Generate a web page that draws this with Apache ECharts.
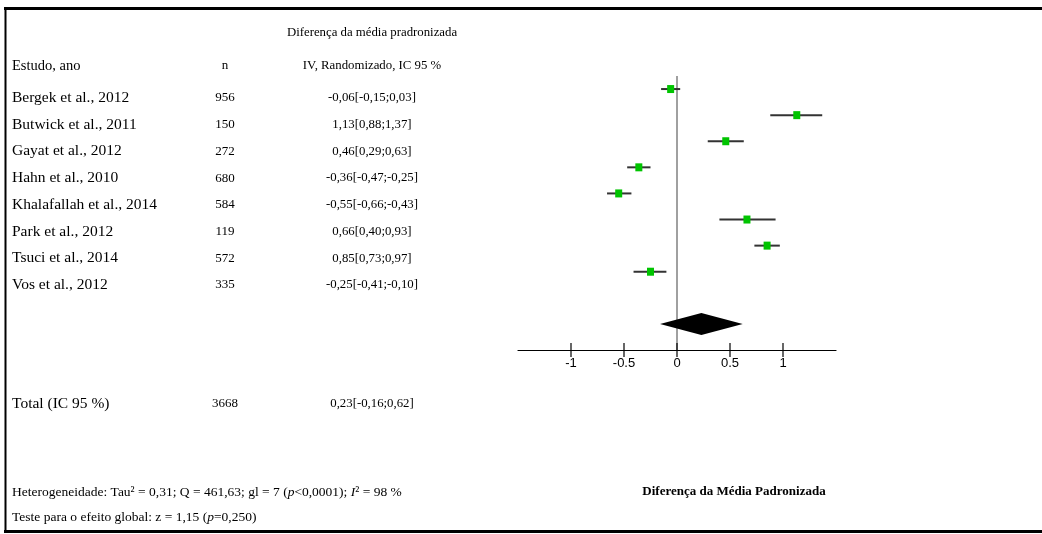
<!DOCTYPE html>
<html>
<head>
<meta charset="utf-8">
<script src="https://cdn.jsdelivr.net/npm/echarts@6/dist/echarts.min.js"></script>
<style>
  html, body { margin: 0; padding: 0; background: #fff; }
  #chart { width: 1042px; height: 534px; }
</style>
</head>
<body>
<div id="chart"></div>
<script>
// Forest plot: standardized mean difference per study (IV, random effects, 95% CI)
const studies = [
  'Bergek et al., 2012', 'Butwick et al., 2011', 'Gayat et al., 2012', 'Hahn et al., 2010',
  'Khalafallah et al., 2014', 'Park et al., 2012', 'Tsuci et al., 2014', 'Vos et al., 2012'
];
const sampleSizes = [956, 150, 272, 680, 584, 119, 572, 335];
const smd   = [-0.06, 1.13, 0.46, -0.36, -0.55, 0.66, 0.85, -0.25];
const ciLow = [-0.15, 0.88, 0.29, -0.47, -0.66, 0.40, 0.73, -0.41];
const ciHigh= [ 0.03, 1.37, 0.63, -0.25, -0.43, 0.93, 0.97, -0.10];

const totalN = 3668;
const pooled = [0.23, -0.16, 0.62]; // estimate, lower, upper

const xTicks = [-1, -0.5, 0, 0.5, 1];
const xMin = -1.5, xMax = 1.5;

const fmt = v => v.toFixed(2).replace('.', ',');
const ciText = (e, l, h) => fmt(e) + '[' + fmt(l) + ';' + fmt(h) + ']';

const SERIF = '"Liberation Serif", "Times New Roman", serif';
const F_NAME = 15.5, F_NUM = 13, F_CI = 12.8, F_FOOT = 13.5;

// plot rows: study i sits at row i+1, pooled diamond at row 10, axis at row 11
const ciData = smd.map((e, i) => [i + 1, e, ciLow[i], ciHigh[i]]);
const diamondData = [[10, pooled[0], pooled[1], pooled[2]]];

// table text
const colStudy = 12, colN = 225, colCI = 372;
const rowY0 = 98, rowStep = 26.7;
const graphic = [];
function txt(x, y, text, align, size, extra) {
  graphic.push({
    type: 'text', x: x, y: y, silent: true,
    style: Object.assign({
      text: text, fill: '#000', font: size + 'px ' + SERIF,
      textAlign: align || 'left', textVerticalAlign: 'middle'
    }, extra || {})
  });
}
txt(colCI, 33, 'Diferença da média pradronizada', 'center', F_CI);
txt(colStudy, 66, 'Estudo, ano', 'left', 14.5);
txt(colN, 66, 'n', 'center', F_NUM);
txt(colCI, 66, 'IV, Randomizado, IC 95 %', 'center', F_CI);
studies.forEach((s, i) => {
  const y = rowY0 + i * rowStep;
  txt(colStudy, y, s, 'left', F_NAME);
  txt(colN, y, String(sampleSizes[i]), 'center', F_NUM);
  txt(colCI, y, ciText(smd[i], ciLow[i], ciHigh[i]), 'center', F_CI);
});
txt(colStudy, 404, 'Total (IC 95 %)', 'left', F_NAME);
txt(colN, 404, String(totalN), 'center', F_NUM);
txt(colCI, 404, ciText(pooled[0], pooled[1], pooled[2]), 'center', F_CI);

const it = { it: { fontStyle: 'italic', fontFamily: SERIF, fontSize: F_FOOT, fill: '#000' } };
graphic.push({
  type: 'text', x: colStudy, y: 492, silent: true,
  style: {
    text: 'Heterogeneidade: Tau² = 0,31; Q = 461,63; gl = 7 ({it|p}<0,0001); {it|I}² = 98 %',
    fill: '#000', font: F_FOOT + 'px ' + SERIF, textVerticalAlign: 'middle', rich: it
  }
});
graphic.push({
  type: 'text', x: colStudy, y: 517, silent: true,
  style: {
    text: 'Teste para o efeito global: z = 1,15 ({it|p}=0,250)',
    fill: '#000', font: F_FOOT + 'px ' + SERIF, textVerticalAlign: 'middle', rich: it
  }
});
txt(734, 492, 'Diferença da Média Padronizada', 'center', 13, { font: 'bold 13px ' + SERIF });

// frame
graphic.push({ type: 'line', silent: true, shape: { x1: 4, y1: 8.5, x2: 1042, y2: 8.5 }, style: { stroke: '#000', lineWidth: 3 } });
graphic.push({ type: 'line', silent: true, shape: { x1: 5.5, y1: 7, x2: 5.5, y2: 533 }, style: { stroke: '#000', lineWidth: 2 } });
graphic.push({ type: 'line', silent: true, shape: { x1: 4, y1: 531.5, x2: 1042, y2: 531.5 }, style: { stroke: '#000', lineWidth: 3 } });

const option = {
  animation: false,
  backgroundColor: '#fff',
  grid: { left: 518, width: 318, top: 76, height: 274 },
  xAxis: {
    type: 'value', min: xMin, max: xMax, interval: 0.5,
    axisLine: { lineStyle: { color: '#000', width: 1.2 } },
    axisTick: { show: false },
    splitLine: { show: false },
    axisLabel: {
      margin: 7, color: '#000', fontSize: 13, fontFamily: '"Liberation Sans", Arial, sans-serif',
      formatter: v => (xTicks.indexOf(v) >= 0 ? String(v) : '')
    }
  },
  yAxis: { type: 'value', inverse: true, min: 0.5, max: 11, show: false },
  graphic: graphic,
  series: [
    {
      // line of no effect
      type: 'line', silent: true, symbol: 'none',
      data: [[0, 0.5], [0, 11]],
      lineStyle: { color: '#808080', width: 1.5 }, z: 1
    },
    {
      // axis tick marks crossing the axis line
      type: 'custom', silent: true,
      data: xTicks.map(t => [t]),
      renderItem: (params, api) => {
        const p = api.coord([api.value(0), 11]);
        return { type: 'line', shape: { x1: p[0], y1: p[1] - 7, x2: p[0], y2: p[1] + 7 },
                 style: { stroke: '#000', lineWidth: 1.2 } };
      }, z: 3
    },
    {
      // study confidence intervals and point estimates
      type: 'custom', silent: true,
      data: ciData,
      encode: { x: [1, 2, 3], y: 0 },
      renderItem: (params, api) => {
        const y = api.value(0);
        const a = api.coord([api.value(2), y]);
        const b = api.coord([api.value(3), y]);
        const c = api.coord([api.value(1), y]);
        return { type: 'group', children: [
          { type: 'line', shape: { x1: a[0], y1: a[1], x2: b[0], y2: b[1] },
            style: { stroke: '#333', lineWidth: 2 } },
          { type: 'rect', shape: { x: c[0] - 3.5, y: c[1] - 4, width: 7, height: 8 },
            style: { fill: '#00c400' } }
        ] };
      }, z: 4
    },
    {
      // pooled estimate diamond
      type: 'custom', silent: true,
      data: diamondData,
      encode: { x: [1, 2, 3], y: 0 },
      renderItem: (params, api) => {
        const y = api.value(0);
        const l = api.coord([api.value(2), y]);
        const h = api.coord([api.value(3), y]);
        const e = api.coord([api.value(1), y]);
        return { type: 'polygon',
          shape: { points: [[l[0], l[1]], [e[0], e[1] - 11], [h[0], h[1]], [e[0], e[1] + 11]] },
          style: { fill: '#000' } };
      }, z: 4
    }
  ]
};

echarts.init(document.getElementById('chart'), null, { renderer: 'canvas' }).setOption(option);
</script>
</body>
</html>
